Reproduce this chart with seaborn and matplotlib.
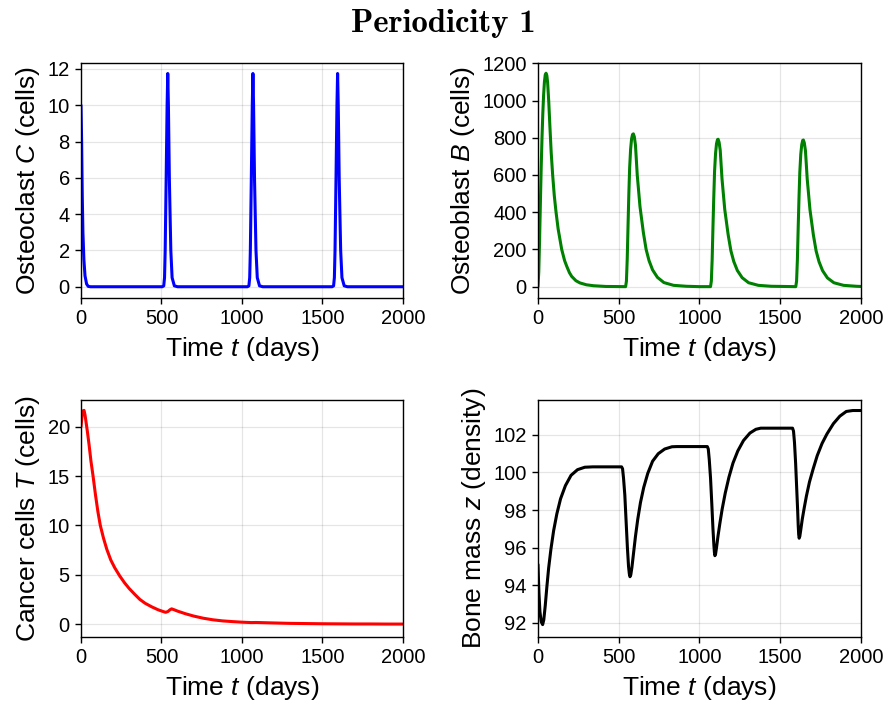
import os
import matplotlib
matplotlib.use('Agg')
import matplotlib.pyplot as plt
from matplotlib.font_manager import FontProperties
import seaborn as sns

sns.set_theme(style='whitegrid')
plt.rcParams['font.family'] = ['Liberation Sans', 'DejaVu Sans']
plt.rcParams['mathtext.fontset'] = 'custom'
plt.rcParams['mathtext.rm'] = 'Liberation Sans'
plt.rcParams['mathtext.it'] = 'Liberation Sans:italic'
for k in ['text.color', 'axes.labelcolor', 'xtick.color', 'ytick.color']:
    plt.rcParams[k] = 'black'

# osteoclasts C (cells)
t_C = [0, 4, 8, 12, 18, 25, 35, 45, 60,
       505, 514, 519, 523, 529, 535, 539, 543, 549, 558, 566, 580, 600,
       1034, 1043, 1048, 1052, 1058, 1064, 1068, 1072, 1078, 1087, 1095, 1109, 1129,
       1560, 1569, 1574, 1578, 1584, 1590, 1594, 1598, 1604, 1613, 1621, 1635, 1655,
       2000]
C = [10.0, 8.0, 5.0, 3.0, 1.5, 0.6, 0.15, 0.02, 0.0,
     0.0, 0.05, 0.5, 2.0, 5.9, 10.0, 11.75, 10.0, 5.9, 2.0, 0.5, 0.05, 0.0,
     0.0, 0.05, 0.5, 2.0, 5.9, 10.0, 11.75, 10.0, 5.9, 2.0, 0.5, 0.05, 0.0,
     0.0, 0.05, 0.5, 2.0, 5.9, 10.0, 11.75, 10.0, 5.9, 2.0, 0.5, 0.05, 0.0,
     0.0]

# osteoblasts B (cells)
t_B = [0, 5, 10, 15, 20, 25, 30, 35, 40, 45, 50, 55, 60, 67, 74, 82, 91, 101, 112,
       125, 147, 165, 178, 195, 209, 235, 260, 300, 343, 420, 543,
       548, 553, 558, 563, 568, 574, 580, 586, 591, 597, 604, 615, 632, 653, 670,
       688, 710, 740, 780, 840, 920, 1000, 1069,
       1074, 1079, 1084, 1089, 1094, 1100, 1106, 1112, 1116, 1122, 1129, 1140, 1157,
       1178, 1195, 1213, 1235, 1265, 1305, 1365, 1445, 1597,
       1602, 1607, 1612, 1617, 1622, 1628, 1634, 1640, 1644, 1650, 1657, 1668, 1685,
       1706, 1723, 1741, 1763, 1793, 1833, 1893, 1973, 2000]
B = [0, 80, 250, 450, 640, 800, 930, 1030, 1100, 1138, 1147, 1135, 1095, 990, 860,
     720, 600, 490, 400, 310, 200, 140, 110, 75, 55, 32, 20, 10, 5, 1, 0,
     30, 150, 330, 500, 640, 740, 795, 818, 821, 805, 760, 600, 430, 290, 200,
     140, 90, 50, 22, 7, 2, 0, 0,
     30, 145, 320, 480, 620, 715, 768, 790, 792, 776, 733, 580, 415,
     280, 193, 135, 87, 48, 21, 7, 2, 0,
     30, 145, 318, 478, 615, 712, 763, 786, 788, 772, 730, 577, 413,
     278, 192, 134, 86, 47, 21, 7, 2, 1]

# cancer cells T (cells)
t_T = [0, 6, 12, 19, 25, 32, 39, 50, 62, 75, 90, 105, 120, 140, 160, 185, 210,
       240, 270, 300, 335, 366, 400, 440, 480, 510, 526, 540, 552, 563, 580, 600,
       650, 700, 760, 820, 880, 940, 1000, 1060, 1085, 1110, 1200, 1300, 1400,
       1500, 1600, 1700, 1800, 1900, 2000]
T = [20.0, 21.0, 21.6, 21.65, 21.2, 20.4, 19.6, 18.2, 16.5, 15.0, 13.1, 11.4, 10.0,
     8.7, 7.6, 6.5, 5.7, 4.9, 4.2, 3.6, 3.0, 2.5, 2.1, 1.75, 1.45, 1.28, 1.2,
     1.28, 1.45, 1.55, 1.45, 1.32, 1.05, 0.82, 0.6, 0.44, 0.33, 0.26, 0.2, 0.16,
     0.17, 0.16, 0.12, 0.08, 0.06, 0.04, 0.03, 0.02, 0.02, 0.01, 0.01]

# bone mass z (density)
t_z = [0, 6, 12, 20, 29, 36, 45, 55, 66, 80, 97, 117, 140, 170, 205, 245, 290, 340, 518,
       524, 530, 538, 546, 554, 561, 566, 570, 575, 582, 592, 604, 618, 635, 655,
       680, 710, 745, 785, 830, 860, 1049,
       1055, 1061, 1069, 1077, 1084, 1090, 1093, 1096, 1100, 1106, 1115, 1127, 1141,
       1160, 1183, 1208, 1238, 1273, 1313, 1350, 1380, 1577,
       1583, 1589, 1596, 1603, 1609, 1612, 1615, 1618, 1622, 1628, 1637, 1649, 1663,
       1682, 1705, 1730, 1760, 1790, 1830, 1870, 1910, 1950, 2000]
z = [95.1, 93.6, 92.6, 92.05, 91.9, 92.15, 92.9, 93.9, 94.9, 95.9, 96.9, 97.8,
     98.6, 99.3, 99.85, 100.15, 100.28, 100.3, 100.3,
     100.2, 99.7, 98.8, 97.4, 96.0, 95.0, 94.6, 94.45, 94.55, 94.95, 95.7, 96.6,
     97.5, 98.4, 99.2, 99.95, 100.6, 101.0, 101.25, 101.37, 101.38, 101.38,
     101.25, 100.7, 99.7, 98.3, 97.0, 96.1, 95.75, 95.57, 95.65, 96.0, 96.6, 97.3,
     98.05, 98.9, 99.75, 100.5, 101.15, 101.7, 102.1, 102.3, 102.36, 102.36,
     102.2, 101.6, 100.5, 99.1, 97.9, 97.2, 96.7, 96.5, 96.6, 96.95, 97.5, 98.1,
     98.75, 99.5, 100.2, 100.9, 101.55, 102.05, 102.6, 103.0, 103.25, 103.3, 103.3]

panels = [
    (t_C, C, 'blue', 'Osteoclast $C$ (cells)', (-0.62, 12.33), [0, 2, 4, 6, 8, 10, 12]),
    (t_B, B, 'green', 'Osteoblast $B$ (cells)', (-61, 1202), [0, 200, 400, 600, 800, 1000, 1200]),
    (t_T, T, 'red', 'Cancer cells $T$ (cells)', (-1.3, 22.7), [0, 5, 10, 15, 20]),
    (t_z, z, 'black', 'Bone mass $z$ (density)', (91.24, 103.86), [92, 94, 96, 98, 100, 102]),
]
boxes = [
    [0.0913, 0.5755, 0.363, 0.3348],
    [0.6065, 0.5755, 0.364, 0.3348],
    [0.0913, 0.0926, 0.363, 0.3376],
    [0.6065, 0.0926, 0.364, 0.3376],
]

fig = plt.figure(figsize=(8.87, 7.02), dpi=100)
for (tt, yy, col, lab, ylim, yt), box in zip(panels, boxes):
    ax = fig.add_axes(box)
    sns.lineplot(x=tt, y=yy, color=col, linewidth=2.2, ax=ax)
    ax.set_xlim(0, 2000)
    ax.set_ylim(*ylim)
    ax.set_xticks([0, 500, 1000, 1500, 2000])
    ax.set_yticks(yt)
    ax.set_xlabel('Time $t$ (days)', fontsize=19, labelpad=5)
    ax.set_ylabel(lab, fontsize=19, labelpad=4)
    ax.tick_params(axis='both', which='major', labelsize=14.5, direction='out',
                   length=4, width=1, color='black', left=True, bottom=True, pad=4)
    ax.set_facecolor('white')
    ax.grid(True, color='black', alpha=0.1, linewidth=0.9)
    for s in ax.spines.values():
        s.set_color('black')
        s.set_linewidth(1.0)

cm_bold = FontProperties(fname=os.path.join(matplotlib.get_data_path(), 'fonts', 'ttf', 'cmb10.ttf'), size=23.5)
fig.text(0.5, 0.967, 'Periodicity 1', fontproperties=cm_bold, ha='center', va='center')

fig.savefig('out.png', dpi=100, facecolor='white')
